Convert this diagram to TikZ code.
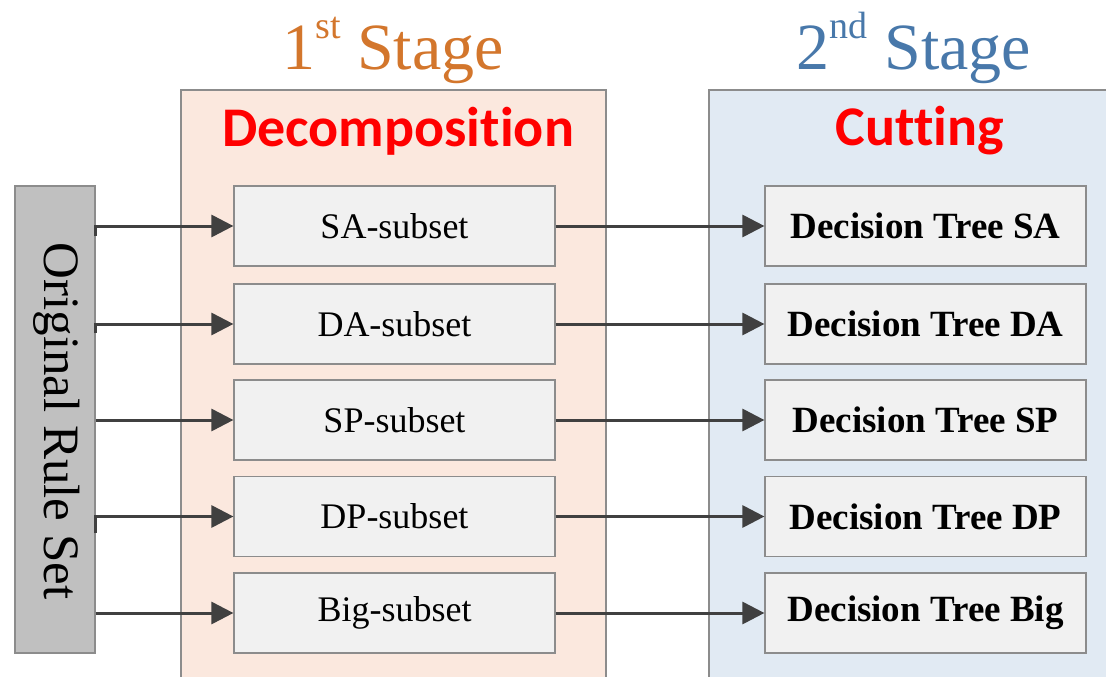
\documentclass[tikz,border=0pt]{standalone}
\usepackage{fontspec}
\setmainfont{Liberation Serif}
\newfontfamily\headfont[Ligatures=NoCommon]{Carlito}
\usetikzlibrary{arrows.meta}

\definecolor{stageorange}{RGB}{211,118,44}
\definecolor{stageblue}{RGB}{72,120,170}
\definecolor{panelorange}{RGB}{251,232,222}
\definecolor{panelblue}{RGB}{225,234,243}
\definecolor{boxfill}{RGB}{241,241,241}
\definecolor{boxline}{RGB}{140,140,140}
\definecolor{rulefill}{RGB}{192,192,192}
\definecolor{arrowgrey}{RGB}{64,64,64}

\newcommand{\ordsup}[1]{\raisebox{0.47em}{\fontsize{38}{38}\selectfont #1}\hspace{0.25em}}

\tikzset{
  px/.style={x=1pt,y=-1pt},
  panel/.style={draw=boxline, line width=1.2pt},
  itembox/.style={draw=boxline, fill=boxfill, line width=1.2pt, minimum width=321pt, minimum height=80pt, inner sep=0pt, font=\fontsize{36}{40}\selectfont},
  treebox/.style={itembox, font=\fontsize{37}{40}\selectfont\bfseries},
  link/.style={draw=arrowgrey, line width=3pt, -{Triangle[length=22pt,width=22pt]}},
  stagetitle/.style={font=\fontsize{66}{70}\selectfont, inner sep=0pt},
  headtitle/.style={font=\headfont\fontsize{56}{60}\selectfont\bfseries, text=red, inner sep=0pt},
}

\begin{document}
\begin{tikzpicture}[px]
\useasboundingbox (0,0) rectangle (1106,677);
\clip (0,0) rectangle (1106,677);

% stage panels
\fill[panelorange] (181,90) rectangle (606,690);
\draw[panel] (181,690) -- (181,90) -- (606,90) -- (606,690);
\fill[panelblue] (709,90) rectangle (1120,690);
\draw[panel] (709,690) -- (709,90) -- (1120,90);

% stage titles
\node[stagetitle, text=stageorange, anchor=base] at (393,70) {1\ordsup{st}Stage};
\node[stagetitle, text=stageblue, anchor=base] at (914,70) {2\ordsup{nd}Stage};
\node[headtitle] (dec) at (398,131) {Decomposition};
\node[headtitle] (cut) at (920,131) {Cutting};

% original rule set
\node[draw=boxline, fill=rulefill, line width=1.2pt, minimum width=80pt, minimum height=467pt, inner sep=0pt] (rules) at (55,419.5) {};
\node[rotate=-90, font=\fontsize{51}{55}\selectfont, inner sep=0pt] at (57,421) {Original Rule Set};

% subsets and decision trees
\node[itembox] (sa) at (394.5,226) {SA-subset};
\node[itembox] (da) at (394.5,324) {DA-subset};
\node[itembox] (sp) at (394.5,420) {SP-subset};
\node[itembox] (dp) at (394.5,516.5) {DP-subset};
\node[itembox] (big) at (394.5,613) {Big-subset};

\node[treebox] (tsa) at (925.5,226) {Decision Tree SA};
\node[treebox] (tda) at (925.5,324) {Decision Tree DA};
\node[treebox] (tsp) at (925.5,420) {Decision Tree SP};
\node[treebox] (tdp) at (925.5,516.5) {Decision Tree DP};
\node[treebox] (tbig) at (925.5,613) {Decision Tree Big};

% connectors from the rule set
\coordinate (r1) at (rules.east |- 0,236);
\coordinate (r2) at (rules.east |- 0,333);
\coordinate (r4) at (rules.east |- 0,533);
\draw[link] (r1) -- (r1 |- sa.west) -- (sa.west);
\draw[link] (r2) -- (r2 |- da.west) -- (da.west);
\draw[link] (rules.east |- sp.west) -- (sp.west);
\draw[link] (r4) -- (r4 |- dp.west) -- (dp.west);
\draw[link] (rules.east |- big.west) -- (big.west);

% connectors to the decision trees
\draw[link] (sa.east) -- (tsa.west);
\draw[link] (da.east) -- (tda.west);
\draw[link] (sp.east) -- (tsp.west);
\draw[link] (dp.east) -- (tdp.west);
\draw[link] (big.east) -- (tbig.west);
\end{tikzpicture}
\end{document}
